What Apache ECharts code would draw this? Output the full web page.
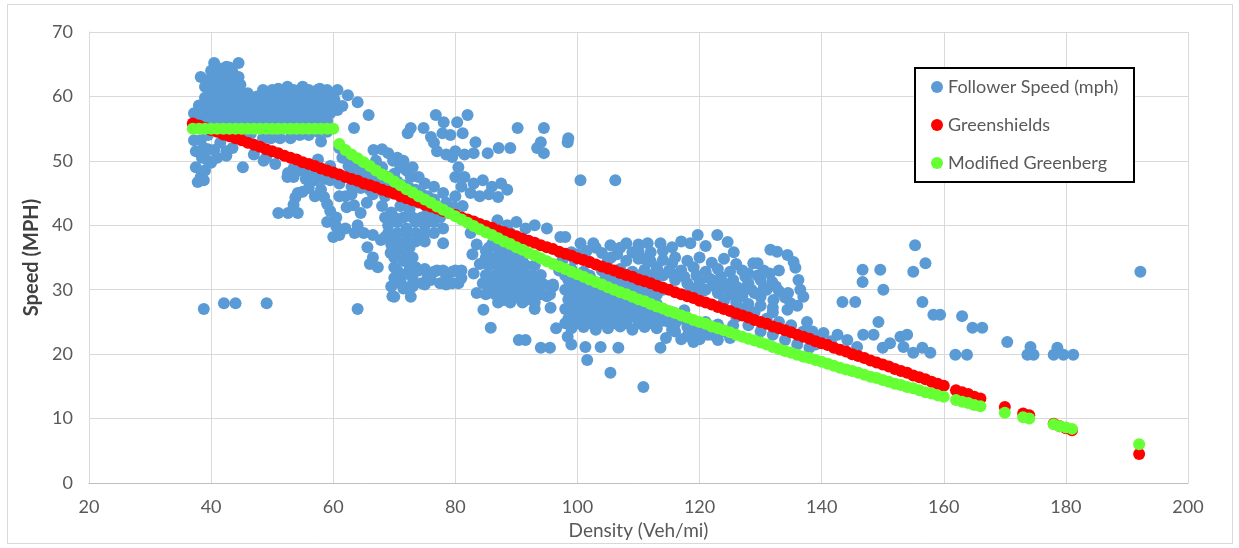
<!DOCTYPE html>
<html>
<head>
<meta charset="utf-8">
<script src="https://cdn.jsdelivr.net/npm/echarts@6/dist/echarts.min.js"></script>
<style>
html,body{margin:0;padding:0;background:#fff;}
#chart{width:1239px;height:548px;}
</style>
</head>
<body>
<div id="chart"></div>
<script>
// ---- Data ----
const seriesNames = ['Follower Speed (mph)', 'Greenshields', 'Modified Greenberg'];
const xTicks = [20, 40, 60, 80, 100, 120, 140, 160, 180, 200];
const yTicks = [0, 10, 20, 30, 40, 50, 60, 70];

// Observed follower speed points [density, speed]
const followerPoints = [
  // top cluster 38-45
  [40.5,65.2],[41.5,64.3],[42.5,64.6],[44.5,65.2],[43.5,63.8],[38.3,63.0],[39.5,62.5],[40.5,63.3],[41.5,62.2],[42.5,62.8],[43.5,62],[44.5,63],[42.7,61],[41,61.2],
  [40,64],[41,63.5],[42,63.5],[43,64.5],[39,61.5],[40,61.8],[43.8,61.5],[44.8,61.8],
  // band 37-60 above green
  [37.2,57.4],[38.5,58.2],[39.5,57],[40.5,58.5],[41.5,59.8],[42.5,58],[43.5,59.5],[44.5,58],[45.5,59.8],[46.5,58.5],[47.5,60],[48.5,59],[49.5,60.5],[50.5,59],[51.5,60.8],[52.5,59.5],[53.5,61],[54.5,59.5],[55.5,60.8],[56.5,59.5],[57.5,61],[58.5,59.8],[59.2,60.5],
  [41.5,56.8],[43,57],[45,56.8],[47,57],[49,57.2],[51,57.5],[53,57.2],[55,57.3],[57,57.5],[59,57.5],[48,58.5],[50,58.2],[52,58.3],[54,58.5],[56,58.2],[58,58.5],[46,60.5],[44,60.5],[51,61.2],[55,61.5],[52.5,61.5],[57.8,61.2],
  [38,56.2],[39.5,56.2],[41,56.2],[42.5,56.2],[44,56.2],[45.5,56.2],[47,56.2],[48.5,56.2],[50,56.2],[51.5,56.2],[53,56.2],[54.5,56.2],[56,56.2],[57.5,56.2],[59,56.2],
  [38.7,57.4],[40.2,57.4],[41.7,57.4],[43.2,57.4],[44.7,57.4],[46.2,57.4],[47.7,57.4],[49.2,57.4],[50.7,57.4],[52.2,57.4],[53.7,57.4],[55.2,57.4],[56.7,57.4],[58.2,57.4],[59.5,57.4],
  [38,58.6],[39.5,58.6],[41,58.6],[42.5,58.6],[44,58.6],[45.5,58.6],[47,58.6],[48.5,58.6],[50,58.6],[51.5,58.6],[53,58.6],[54.5,58.6],[56,58.6],[57.5,58.6],[59,58.6],[60.5,58.6],
  [39,59.8],[40.5,59.8],[42,59.8],[43.5,59.8],[45,59.8],[46.5,59.8],[48,59.8],[49.5,59.8],[51,59.8],[52.5,59.8],[54,59.8],[55.5,59.8],[57,59.8],[58.5,59.8],
  [40,61],[41.5,61],[43,61],[44.5,61],[48.5,61],[50,61],[53,61],[54.5,61],[56,61],[57.5,61],[59,61],
  [60.7,61],[62.4,60.2],[64,59.1],[65.8,57.1],[60.7,57.9],[63.4,55.1],[61.5,58.5],[60.2,59.5],
  // 37-45 below green
  [37.2,53.2],[38.3,53.2],[37.5,55.5],[39.5,54],[40.5,51.7],[41.5,52.8],[42.5,51.5],[40,49.7],[41,50.5],[38.3,47.5],[37.8,46.7],[39,48.5],[38.8,47],[45.2,49.0],[42.5,50.8],[43.5,52],
  [37.5,49],[38.5,50.5],[39.5,50],[37.5,51.5],[38.8,52],[39.5,51.8],
  // 45-60 between lines
  [48.5,53.5],[49.8,53.5],[51.3,53.5],[53,53.5],[54.5,54],[56,54],[57.5,54.5],[59,54.5],[58,53],[46.5,54.2],[45,54.8],
  // 45-64 below red
  [47,51],[49,50.5],[48.6,50],[50.5,49.5],[52.6,48.1],[53.5,47.5],[54.5,48.5],[55.5,47.2],[56.5,48],[57,47],[54.2,45],[53.8,44.3],[51,41.9],[52.6,41.9],[54.2,41.9],[53.5,43.2],[58.5,44.4],[59,43.3],[59.5,42.2],[60.5,41.2],[63.4,43.1],[64.5,41.9],[62.2,42.8],[58,48.5],[59.5,49.2],[57.5,50.2],[60,47.5],[61,46.5],
  [52.5,47.5],[53.5,48.8],[55.5,48.2],[56.5,47],[57.5,48.2],[58.5,47.2],[59.5,47],[56,45.8],[57,44.5],[55,45.2],[58,45.5],
  // 60-72 under green curve
  [61,52],[62,51.5],[63,50.5],[64,50],[65,49],[66.6,51.7],[69,51.2],[67,50],[68,49],[66,48],[65,46.5],[64,47.5],[67.8,45.9],[69,47.5],[70,48],[71,49],[72,48.5],[70.5,50.5],[72.7,47.5],[68.5,44.5],[66.5,44.8],[63,46],[62,44.5],[61,44.5],[65.5,43.5],
  [61.5,50.5],[62.5,49.2],[63.5,48.5],[64.5,48.8],[65.5,47.8],[66.5,47.2],[67.5,47.5],[68.5,47],[69.5,46.5],[70.5,46.8],[71.5,46.2],[72.5,45.8],[73.5,45.5],[74.5,44.8],[75.5,44.5],[76.5,44],[68,51.8],[69.8,50],[71.5,50],[73,49],[74,47.5],[75,46.5],[76.5,46],[64.5,45.8],[66,45.5],[63,44.8],
  // 58-68 mid
  [59,40.5],[60.5,39.8],[62,39.5],[63.5,38.8],[65,38.8],[66.5,38.5],[67.8,37.7],[61,38.5],[64,40],[60,38.2],
  [65.6,36.6],[66.5,35],[67.3,33.5],[66,34],[69.4,35.7],[70,33.5],[71,31.5],[69.7,29],[70.5,32.5],[64,27.0],[70,28.9],[72.7,28.9],
  // 68-79 dense
  [68,43],[69.5,42],[71,43],[72.5,42.5],[74,43.5],[75.5,42.5],[77,43],[78.5,43.5],[69,40],[70.5,40.5],[72,39.5],[73.5,40.5],[75,40],[76.5,40.5],[78,39.5],[70,38.2],[68.5,38.2],[78,37.2],[74,38.5],
  [68.5,41.2],[70,41.2],[71.5,41.2],[73,41.2],[74.5,41.2],[76,41.2],[77.5,41.2],
  [69,38.8],[70.5,38.8],[72,38.8],[73.5,38.8],[75,38.8],[76.5,38.8],
  [70.5,37.5],[72,37.5],[73.5,37.5],[75,37.5],
  [69.5,37],[71,37],[72.5,36.5],[70,35],[71.5,34.5],[73,35],[70.5,33],[72,32.5],[71,31],[73,30.5],[72,30.4],
  [69.5,35.8],[71,35.5],[72.5,35],[73.5,33.5],[70,31.8],[71.5,30.2],[73,31.8],[69.5,30.5],[70,36.8],[72.5,33.8],
  [74,33],[75.5,32],[77,33],[78.5,32],[80,33],[81,31.8],[74.5,31],[76,31.5],[79.5,31],[77.5,31],
  [75,33.2],[76.5,32.8],[78,33],[79.5,32.8],[81,33],[75,30.8],[78.5,30.8],[80.5,31],
  // 80-88 column and block
  [79.5,50.6],[80.5,49],[80,47.5],[81,46],[80,44.5],[81.2,43],[79.8,42.8],
  [81.5,47.5],[83,46.5],[84.5,47],[86,46],[87.5,46.5],[88.5,45.5],[82.5,45],[84,44.5],[85.5,44.8],[87,44.4],[78,45],
  // upper 72-99
  [76.8,57.1],[78.1,56.0],[80.3,56.0],[82,57.1],[72.7,55.1],[72.2,54.3],[74.8,55.1],[76,53.7],[76.5,52.8],[77.9,54.3],[79.2,54],[81.2,54.3],[83.3,52.9],[90.2,55.1],[94.5,55.1],[94,52.9],[93.4,52],[94.5,51.2],[98.4,52.9],[85.3,51.2],[87.1,52],[89,52],[77,51.5],[78.5,51],[80,51.5],[81.5,51],[83,51.2],[98.5,53.5],
  // 82-97
  [82.5,38.8],[83.5,37],[82.8,35.5],[84,34],[83,32.5],[84.5,31],[83.5,29.5],
  [86,37],[87.5,36],[89,35.5],[86.5,34.5],[88,33.5],[89.5,32.5],[91,33],[92.5,32],[86,32],[87.5,31],[89,30.5],[90.5,30],[92,29.5],[93.5,30],[95,29],[86.5,29.5],[88,28.5],[90,28.8],[91.5,28.4],[94,31],[96,30.5],[85,36],
  [85.5,36.5],[87,36.5],[88.5,36.5],
  [85,35],[86.5,35],[88,35],[89.5,35],[91,35],
  [85.5,33.8],[87,33.8],[88.5,33.8],[90,33.8],[91.5,33.8],[93,33.8],
  [85,32.3],[86.5,32.3],[88,32.3],[89.5,32.3],[91,32.3],[92.5,32.3],[94,32.3],
  [85.5,30.8],[87,30.8],[88.5,30.8],[90,30.8],[91.5,30.8],[93,30.8],[94.5,30.8],[96,30.8],
  [85,29.3],[86.5,29.3],[88,29.3],[89.5,29.3],[91,29.3],[92.5,29.3],[94,29.3],[95.5,29.3],
  [87,28],[89,28],[91,28],[93,28],
  [86.9,40.8],[88.5,40],[90,40.5],[91.5,39.5],[93,40],[95,39.5],[97.2,38.2],[89,38.8],
  [84.6,26.9],[85.8,24.1],[87.9,28.4],[95.6,27.2],[90.4,22.2],[91.5,22.2],[94,21],[95.5,21],[98.4,22.7],[96.5,24],[93,27],[99,25],
  [100.5,47],[106.2,47],
  // top row 98-129
  [98,38.2],[100.5,37.2],[102.6,37.2],[105.4,36.9],[108,37.2],[110,37],[111.5,37.2],[113.6,37.2],[115.5,36.6],[117,37.5],[118.5,37.2],[119.7,38.5],[122.9,38.5],[124.6,37.4],[125.6,35.8],[121,36.8],[128.8,34.1],[115.5,34.1],[113.1,33.1],
  // dense block 97-114
  [99,24],[101,24.2],[103,23.8],[105,24],[107,24.3],[109,23.8],[111,24.2],[113,24],
  [98.5,25.5],[100.5,25.7],[102.5,25.3],[104.5,25.6],[106.5,25.4],[108.5,25.7],[110.5,25.3],[112.5,25.6],
  [98,27],[100,27.2],[102,26.8],[104,27.1],[106,27],[108,27.2],[110,26.8],[112,27.1],[114,27],
  [98.5,28.5],[100.5,28.7],[102.5,28.4],[104.5,28.6],[106.5,28.5],[108.5,28.3],[110.5,28.6],[112.5,28.4],
  [98,30],[100,30.2],[102,29.8],[104,30.1],[106,30],[108,30.2],[110,29.8],[112,30.1],[114,30],
  [98.5,31.5],[100.5,31.7],[102.5,31.4],[104.5,31.6],[106.5,31.5],[108.5,31.3],[110.5,31.6],[112.5,31.4],
  [97,33],[99,33.2],[101,32.8],[104,33],[107,33.2],[109,32.8],[111,33.1],[113,33],
  [97.5,34.5],[99.5,34.7],[102,34.3],[105,34.6],[108,34.5],[110,34.8],[112,34.4],[114,34.6],
  [99,35.8],[101.5,36],[104,35.7],[106.5,35.5],[109,35.8],
  [98,24.8],[100,24.8],[102,24.8],[104,24.8],[106,24.8],[108,24.8],[110,24.8],[112,24.8],
  [99,26.2],[101,26.2],[103,26.2],[105,26.2],[107,26.2],[109,26.2],[111,26.2],[113,26.2],
  [99,27.8],[101,27.8],[103,27.8],[105,27.8],[107,27.8],[109,27.8],[111,27.8],[113,27.8],
  [99,29.2],[101,29.2],[103,29.2],[105,29.2],[107,29.2],[109,29.2],[111,29.2],[113,29.2],
  [99,30.8],[101,30.8],[103,30.8],[105,30.8],[107,30.8],[109,30.8],[111,30.8],[113,30.8],
  [98,32.2],[100,32.2],[102,32.2],[105.5,32.2],[108,32.2],[110,32.2],[112,32.2],[114,32.2],
  [100,35.5],[103,36.5],[107,36.5],[110,36],[112,35.8],[114,36],[105.5,35],[111,34.8],[113,33.5],[115,33],
  // 114-140
  [116,31.5],[118,31],[120,31.2],[122,31.5],[124,31],[126,30.5],[128,31],[130,31.5],[117,33],[119,33.5],[121,32.8],[123,33.2],[125,32.8],[127,33],[116,35],[118,34.5],[120,35],[122,34.2],[124,34.8],[126,34],[128,32.5],[119,29.8],[121,30],[123,29.5],[125,29.2],[127,29],[129,29.5],[131,30],[133,29.8],
  [118.5,30.3],[120.5,29.8],[122.5,30.5],[124.5,30],[126.5,29.5],[128.5,30],[130.5,30.3],[132.5,30.5],[134.5,29.5],
  [115.5,32.5],[117.5,32],[119.5,32.2],[121.5,31.8],[123.5,32],[125.5,31.5],[127.5,32],[129.5,32.2],[131.5,32.5],
  [124,28.3],[126,28],[128,27.8],[130,27.5],[132,27.2],[134,28.8],[136,27.5],
  [114.5,22.5],[116,23.5],[118,22.8],[120,23.5],[122,23],[124,23.5],[115,25],[117,25.5],[119,24.8],[121,25],[123,24.6],[125.5,24.5],[115.5,26.5],[117.5,26.8],[126,25.8],[128,24.5],[130,23.5],[132,23],[134,22.2],[136,21.5],[138,21],
  [114,25.2],[116,24.8],[118,24.2],[120,22.3],[117,22.3],[119,23.5],[121,23.8],[123,22.2],[125,22.5],[115.5,23.8],
  [127,27],[129,26.5],[131,25.5],[133,25],[135,24.5],[137,23.5],[139,22.8],[128,26],[132,26.5],
  [131.6,36.2],[132.7,35.9],[134.4,35.4],[135.4,34.3],[135.7,33.4],[136.2,31.5],[129.5,34.1],[131.9,31.2],[127.5,30.3],[130,28.9],[132.1,28.4],[134.9,27.9],[134.4,26.9],[137,28.9],[137.6,25],[133,33],[130.5,33],[136.5,30],
  // 138-160
  [140.3,23.3],[142.6,23],[144.2,22.2],[145.8,21.1],[146.8,23],[148.5,23],[143.4,28.1],[145.5,28.1],[146.7,33.1],[146.7,31.2],[149.6,33.1],[150.1,30],[149.3,25],[151.2,21.7],[152.9,22.7],[153.4,21.1],[155,20.2],[156.5,21],[157.8,20.2],[155.3,36.9],[155,32.8],[157,34.1],[156.5,28.1],[158.3,26.1],[159.4,26.1],[138.5,23.5],[141.5,22],[139,21.5],[150,21],[154,23],
  // >160
  [161.9,19.9],[163.8,19.9],[163,25.9],[164.7,24.1],[166.3,24.1],[170.4,21.9],[174.2,21.1],[173.7,19.9],[174.7,19.9],[178.6,21],[178,19.9],[179.6,19.9],[181.2,19.9],[192.2,32.8],
  // low outliers
  [38.8,27],[42.1,27.9],[44,27.9],[49.1,27.9],[105.4,17.1],[110.8,14.9],[101.3,21.1],[101.6,19.1],[103.8,21.1],[106.7,21],[113.6,21],[119,21.9],[121.3,23],[99,21.5]
];

// Model densities (veh/mi)
const modelDensity = [
  37,38,39,40,41,42,43,44,45,46,47,48,49,50,51,52,53,54,55,56,
  57,58,59,60,61,62,63,64,65,66,67,68,69,70,71,72,73,74,75,76,
  77,78,79,80,81,82,83,84,85,86,87,88,89,90,91,92,93,94,95,96,
  97,98,99,100,101,102,103,104,105,106,107,108,109,110,111,112,113,114,115,116,
  117,118,119,120,121,122,123,124,125,126,127,128,129,130,131,132,133,134,135,136,
  137,138,139,140,141,142,143,144,145,146,147,148,149,150,151,152,153,154,155,156,
  157,158,159,160,162,163,164,165,166,170,173,174,178,179,180,181,192
];

const greenshieldsSpeed = [
  55.8,55.5,55.1,54.8,54.5,54.1,53.8,53.5,53.2,52.8,
  52.5,52.2,51.8,51.5,51.2,50.8,50.5,50.2,49.8,49.5,
  49.2,48.8,48.5,48.2,47.9,47.5,47.2,46.9,46.5,46.2,
  45.9,45.5,45.2,44.9,44.5,44.2,43.9,43.6,43.2,42.9,
  42.6,42.2,41.9,41.6,41.2,40.9,40.6,40.2,39.9,39.6,
  39.2,38.9,38.6,38.3,37.9,37.6,37.3,36.9,36.6,36.3,
  35.9,35.6,35.3,34.9,34.6,34.3,33.9,33.6,33.3,33.0,
  32.6,32.3,32.0,31.6,31.3,31.0,30.6,30.3,30.0,29.6,
  29.3,29.0,28.7,28.3,28.0,27.7,27.3,27.0,26.7,26.3,
  26.0,25.7,25.3,25.0,24.7,24.3,24.0,23.7,23.4,23.0,
  22.7,22.4,22.0,21.7,21.4,21.0,20.7,20.4,20.0,19.7,
  19.4,19.0,18.7,18.4,18.1,17.7,17.4,17.1,16.7,16.4,
  16.1,15.7,15.4,15.1,
  14.4,14.1,13.8,13.4,13.1,11.8,10.8,10.5,9.2,8.8,8.5,8.2,4.5
];

const greenbergSpeed = [
  55,55,55,55,55,55,55,55,55,55,55,55,55,55,55,55,55,55,55,55,55,55,55,55,
  52.6,51.7,51.0,50.4,49.8,49.2,48.5,47.9,47.4,46.8,
  46.2,45.6,45.1,44.5,44.0,43.5,42.9,42.4,41.9,41.4,
  40.9,40.4,39.9,39.4,38.9,38.5,38.0,37.5,37.1,36.6,
  36.2,35.7,35.3,34.9,34.4,34.0,33.6,33.2,32.8,32.4,
  32.0,31.6,31.2,30.8,30.4,30.0,29.6,29.3,28.9,28.5,
  28.2,27.8,27.4,27.1,26.7,26.4,26.0,25.7,25.3,25.0,
  24.7,24.3,24.0,23.7,23.4,23.0,22.7,22.4,22.1,21.8,
  21.5,21.1,20.8,20.5,20.2,19.9,19.6,19.4,19.1,18.8,
  18.5,18.2,17.9,17.6,17.4,17.1,16.8,16.5,16.3,16.0,
  15.7,15.4,15.2,14.9,14.7,14.4,14.1,13.9,13.6,13.4,
  12.9,12.6,12.4,12.1,11.9,10.9,10.2,10.0,9.1,8.8,8.6,8.4,6.0
];

const colors = ['#5b9bd5', '#ff0000', '#66ff33'];
const FONT = 'Lato, "Open Sans", sans-serif';

const chart = echarts.init(document.getElementById('chart'), null, {renderer: 'canvas'});
chart.setOption({
  animation: false,
  backgroundColor: '#ffffff',
  textStyle: {fontFamily: FONT},
  graphic: [
    {type: 'rect', shape: {x: 7.5, y: 4.5, width: 1225, height: 539}, style: {fill: 'none', stroke: '#d9d9d9', lineWidth: 1}, z: -10},
    {type: 'rect', shape: {x: 915, y: 68, width: 219, height: 114}, style: {fill: '#ffffff', stroke: '#000000', lineWidth: 2}, z: 50}
  ],
  grid: {left: 89, right: 51, top: 32, bottom: 65, containLabel: false},
  legend: {
    data: seriesNames,
    orient: 'vertical',
    left: 931, top: 77,
    padding: 0,
    itemGap: 18,
    itemWidth: 12, itemHeight: 12,
    icon: 'circle',
    z: 60,
    textStyle: {fontFamily: FONT, fontSize: 18, lineHeight: 20, color: '#595959', padding: [0, 0, 0, 0]}
  },
  xAxis: {
    type: 'value',
    min: xTicks[0], max: xTicks[xTicks.length - 1], interval: 20,
    name: 'Density (Veh/mi)',
    nameLocation: 'middle', nameGap: 32,
    nameTextStyle: {fontFamily: FONT, fontSize: 19, color: '#595959'},
    axisLine: {show: true, lineStyle: {color: '#bfbfbf', width: 1}},
    axisTick: {show: false},
    axisLabel: {fontFamily: FONT, fontSize: 18, color: '#595959', margin: 15},
    splitLine: {show: true, lineStyle: {color: '#d9d9d9', width: 1}}
  },
  yAxis: {
    type: 'value',
    min: yTicks[0], max: yTicks[yTicks.length - 1], interval: 10,
    name: 'Speed (MPH)',
    nameLocation: 'middle', nameGap: 47,
    nameTextStyle: {fontFamily: FONT, fontSize: 20, fontWeight: 'bold', color: '#404040'},
    axisLine: {show: true, lineStyle: {color: '#d9d9d9', width: 1}},
    axisTick: {show: false},
    axisLabel: {fontFamily: FONT, fontSize: 18, color: '#595959', margin: 16},
    splitLine: {show: true, lineStyle: {color: '#d9d9d9', width: 1}}
  },
  series: [
    {
      name: seriesNames[0], type: 'scatter', symbol: 'circle', symbolSize: 12,
      itemStyle: {color: colors[0], opacity: 1},
      data: followerPoints
    },
    {
      name: seriesNames[1], type: 'scatter', symbol: 'circle', symbolSize: 12,
      itemStyle: {color: colors[1], opacity: 1},
      data: modelDensity.map((d, i) => [d, greenshieldsSpeed[i]])
    },
    {
      name: seriesNames[2], type: 'scatter', symbol: 'circle', symbolSize: 12,
      itemStyle: {color: colors[2], opacity: 1},
      data: modelDensity.map((d, i) => [d, greenbergSpeed[i]])
    }
  ]
});
</script>
</body>
</html>
